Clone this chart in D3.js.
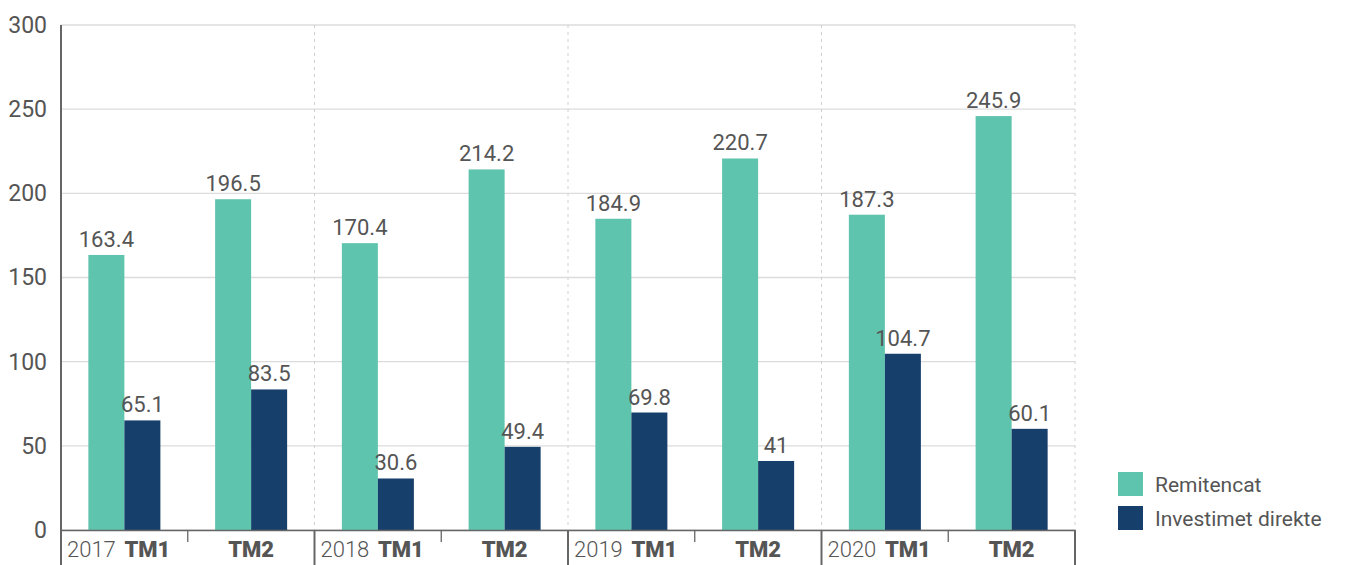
<!DOCTYPE html>
<html><head><meta charset="utf-8">
<script src="https://cdn.jsdelivr.net/npm/d3@7"></script>
<style>body{margin:0;background:#fff}svg{display:block}text{font-family:Roboto,"Liberation Sans",sans-serif}</style>
</head><body><svg id="c" width="1350" height="565"></svg>
<script>
const years = ["2017","2018","2019","2020"];
const quarters = ["TM1","TM2"];
const categories = ["2017 TM1","2017 TM2","2018 TM1","2018 TM2","2019 TM1","2019 TM2","2020 TM1","2020 TM2"];
const remitencat = [163.4,196.5,170.4,214.2,184.9,220.7,187.3,245.9];
const investimet = [65.1,83.5,30.6,49.4,69.8,41,104.7,60.1];
const seriesNames = ["Remitencat","Investimet direkte"];
const colors = ["#5fc4ae","#173f6b"];
const yTicks = [0,50,100,150,200,250,300];

const svg = d3.select("#c");
const L=61,R=1075,T=25,B=530;
const x = d3.scaleBand().domain(categories).range([L,R]);
const xs = d3.scaleBand().domain(seriesNames).range([0,x.bandwidth()]).paddingInner(0).paddingOuter(0.76);
const y = d3.scaleLinear().domain([0,300]).range([B,T]);

// grid
svg.append("g").selectAll("line").data(yTicks).join("line")
  .attr("x1",L).attr("x2",R).attr("y1",d=>y(d)).attr("y2",d=>y(d))
  .attr("stroke","#dcdcdc").attr("stroke-width",1.3);
// dashed year separators
svg.append("g").selectAll("line").data([2,4,6,8]).join("line")
  .attr("x1",i=>i<8?x(categories[i]):R).attr("x2",i=>i<8?x(categories[i]):R)
  .attr("y1",T).attr("y2",B).attr("stroke","#d0d0d0").attr("stroke-dasharray","3,4");

// bars
const data = categories.map((c,i)=>({c,vals:[remitencat[i],investimet[i]]}));
const g = svg.append("g").selectAll("g").data(data).join("g").attr("transform",d=>`translate(${x(d.c)},0)`);
g.selectAll("rect").data(d=>d.vals.map((v,k)=>({v,k}))).join("rect")
  .attr("x",d=>xs(seriesNames[d.k])).attr("width",xs.bandwidth())
  .attr("y",d=>y(d.v)).attr("height",d=>B-y(d.v)).attr("fill",d=>colors[d.k]);
g.selectAll("text").data(d=>d.vals.map((v,k)=>({v,k}))).join("text")
  .attr("x",d=>xs(seriesNames[d.k])+xs.bandwidth()/2).attr("y",d=>y(d.v)-8)
  .attr("text-anchor","middle").attr("font-size",22).attr("fill","#555")
  .text(d=>String(d.v));

// y axis
const yAxis = svg.append("g").attr("transform",`translate(${L},0)`)
  .call(d3.axisLeft(y).tickValues(yTicks).tickSize(0).tickPadding(14));
yAxis.select(".domain").remove();
yAxis.selectAll("text").attr("font-size",23).attr("fill","#555").attr("font-family","Roboto,sans-serif");
svg.append("line").attr("x1",L).attr("x2",L).attr("y1",T).attr("y2",565).attr("stroke","#666").attr("stroke-width",2);

// x axis
const xAxis = svg.append("g").attr("transform",`translate(0,${B})`)
  .call(d3.axisBottom(x).tickSize(0).tickFormat(""));
xAxis.select(".domain").attr("stroke","#666").attr("stroke-width",1.5);
// ticks
const tickXs = d3.range(9).map(i=>i<8?x(categories[i]):R);
svg.append("g").selectAll("line").data(tickXs).join("line")
  .attr("x1",d=>d).attr("x2",d=>d).attr("y1",B)
  .attr("y2",(d,i)=>i%2===0?565:542).attr("stroke","#666").attr("stroke-width",(d,i)=>i%2===0?2:1.3);
// labels
const lab = svg.append("g");
categories.forEach((c,i)=>{
  const q = quarters[i%2];
  const cx = x(c)+x.bandwidth()/2;
  lab.append("text").attr("x",q==="TM1"?cx+23:cx).attr("y",557).attr("text-anchor","middle")
    .attr("font-size",22).attr("font-weight",900).attr("fill","#555").text(q);
  if(i%2===0){
    lab.append("text").attr("x",x(c)+6).attr("y",557).attr("font-size",22).attr("fill","#555")
      .attr("font-weight",300).text(years[i/2]);
  }
});

// legend
const lg = svg.append("g").attr("transform","translate(1118,472)");
seriesNames.forEach((s,k)=>{
  lg.append("rect").attr("x",0).attr("y",k*34).attr("width",25).attr("height",24).attr("fill",colors[k]);
  lg.append("text").attr("x",37).attr("y",k*34+20).attr("font-size",21).attr("fill","#555").text(s);
});
</script></body></html>
